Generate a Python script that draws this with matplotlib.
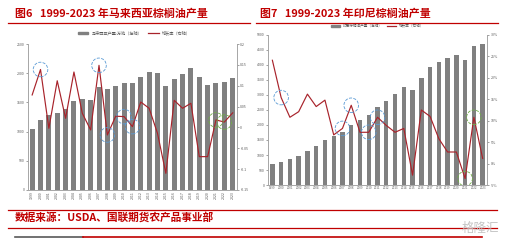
import matplotlib
matplotlib.use("Agg")
import matplotlib.pyplot as plt
from matplotlib.lines import Line2D
from matplotlib.patches import Patch
from matplotlib.ticker import FuncFormatter

plt.rcParams['font.family'] = ['Noto Sans CJK SC', 'DejaVu Sans']

# data
years = list(range(1999, 2024))
my_prod = [1045, 1199, 1284, 1324, 1381, 1529, 1553, 1541, 1769, 1735, 1781, 1837,
           1826, 1940, 2026, 1997, 1781, 1896, 1981, 2084, 1930, 1798, 1826, 1849, 1913]
my_growth = [0.078, 0.139, -0.002, 0.112, 0.022, 0.133, 0.034, -0.006, 0.149, -0.018,
             0.027, 0.026, 0.002, 0.061, 0.046, -0.014, -0.110, 0.065, 0.046, 0.058,
             -0.070, -0.070, 0.018, 0.013, 0.035]
my_blue = [2000, 2007, 2008, 2010, 2011]
my_green = [2021, 2022]

id_prod = [690, 777, 867, 977, 1144, 1311, 1500, 1640, 1777, 2000, 2167, 2333, 2589,
           2811, 3022, 3256, 3167, 3578, 3922, 4111, 4222, 4333, 4167, 4633, 4689]
id_growth = [24.1, 15.4, 10.8, 12.1, 16.2, 13.3, 14.8, 6.7, 8.2, 13.6, 7.3, 7.3, 10.8,
             8.9, 7.3, 8.2, -2.7, 12.5, 11.0, 5.8, 2.7, 2.7, -3.5, 10.8, 1.2]
id_blue = [2000, 2007, 2008, 2010, 2011]
id_green = [2021, 2022]

red = '#c00000'
line_red = '#a8232b'
bar_gray = '#808080'
axis_gray = '#a6a6a6'
txt_gray = '#595959'

fig = plt.figure(figsize=(5.07, 2.42), dpi=100)


def style(ax, ax2):
    for a in (ax, ax2):
        a.spines['top'].set_visible(False)
        for s in ('left', 'right', 'bottom'):
            a.spines[s].set_color(axis_gray)
            a.spines[s].set_linewidth(0.6)
        a.tick_params(colors=txt_gray, labelsize=2.6, length=1.5, width=0.4, pad=1)
        a.tick_params(axis='x', length=0)
    ax.set_xlim(-0.5, len(years) - 0.5)


def circles(ax2, vals, marks, color):
    xs = [years.index(y) for y in marks]
    ys = [vals[i] for i in xs]
    ax2.scatter(xs, ys, s=110, facecolors='none', edgecolors=color,
                linestyles='--', linewidths=0.6, zorder=5)


# ---- left chart: Malaysia
ax = fig.add_axes([0.0552, 0.2149, 0.412, 0.603])
ax2 = ax.twinx()
xi = range(len(years))
ax.bar(xi, my_prod, width=0.6, color=bar_gray)
ax2.plot(xi, my_growth, color=line_red, lw=0.85)
circles(ax2, my_growth, my_blue, '#5b9bd5')
circles(ax2, my_growth, my_green, '#70ad47')
ax.set_ylim(0, 2500)
ax.set_yticks(range(0, 2501, 500))
ax2.set_ylim(-0.15, 0.2)
ax2.set_yticks([-0.15, -0.1, -0.05, 0, 0.05, 0.1, 0.15, 0.2])
ax2.set_yticklabels(['-0.15', '-0.1', '-0.05', '0', '0.05', '0.1', '0.15', '0.2'])
ax.set_xticks(list(xi))
ax.set_xticklabels([str(y) for y in years], rotation=90)
style(ax, ax2)
fig.legend(handles=[Patch(color=bar_gray, label='马来西亚产量:万吨（左轴）'),
                    Line2D([], [], color=line_red, lw=0.9, label='增长率（右轴）')],
           loc='center', bbox_to_anchor=(0.265, 0.862), ncol=2, frameon=False,
           fontsize=3, handlelength=2.5, handleheight=0.5, columnspacing=1.5,
           labelcolor=txt_gray)

# ---- right chart: Indonesia
bx = fig.add_axes([0.5286, 0.2355, 0.432, 0.62])
bx2 = bx.twinx()
bx.bar(xi, id_prod, width=0.5, color=bar_gray)
bx2.plot(xi, id_growth, color=line_red, lw=0.85)
circles(bx2, id_growth, id_blue, '#5b9bd5')
circles(bx2, id_growth, id_green, '#70ad47')
bx.set_ylim(0, 5000)
bx.set_yticks(range(0, 5001, 500))
bx2.set_ylim(-5, 30)
bx2.set_yticks(range(-5, 31, 5))
bx2.yaxis.set_major_formatter(FuncFormatter(lambda v, p: f'{v:.0f}%'))
bx.set_xticks(list(xi))
bx.set_xticklabels([str(y) for y in years])
style(bx, bx2)
bx.tick_params(axis='x', labelsize=2.1)
fig.legend(handles=[Patch(color=bar_gray, label='印尼棕榈油产量（左轴）'),
                    Line2D([], [], color=line_red, lw=0.9, label='增长率（右轴）')],
           loc='center', bbox_to_anchor=(0.745, 0.893), ncol=2, frameon=False,
           fontsize=2.6, handlelength=2.5, handleheight=0.5, columnspacing=1.2,
           labelcolor=txt_gray)

# ---- titles, rules, source
fig.text(0.03, 0.945, '图6   1999-2023 年马来西亚棕榈油产量', color=red,
         fontsize=7.9, fontweight='bold', va='center')
fig.text(0.512, 0.945, '图7   1999-2023 年印尼棕榈油产量', color=red,
         fontsize=7.9, fontweight='bold', va='center')
fig.add_artist(Line2D([0.016, 0.493], [0.905, 0.905], color=red, lw=0.9))
fig.add_artist(Line2D([0.505, 0.982], [0.905, 0.905], color=red, lw=0.9))

fig.add_artist(Line2D([0.016, 0.98], [0.132, 0.132], color=red, lw=0.9))
fig.text(0.03, 0.102, '数据来源：USDA、国联期货农产品事业部', color=red,
         fontsize=7.7, fontweight='bold', va='center')
fig.add_artist(Line2D([0.016, 0.98], [0.057, 0.057], color=red, lw=0.9))
fig.add_artist(Line2D([0.03, 0.164], [0.02, 0.02], color='#595959', lw=1.2))
fig.add_artist(Line2D([0.164, 0.95], [0.02, 0.02], color=red, lw=1.2))
fig.text(0.985, 0.03, '格隆汇', color='#bfbfbf', fontsize=9, ha='right',
         va='bottom', alpha=0.9)

fig.savefig('out.png', dpi=100)
